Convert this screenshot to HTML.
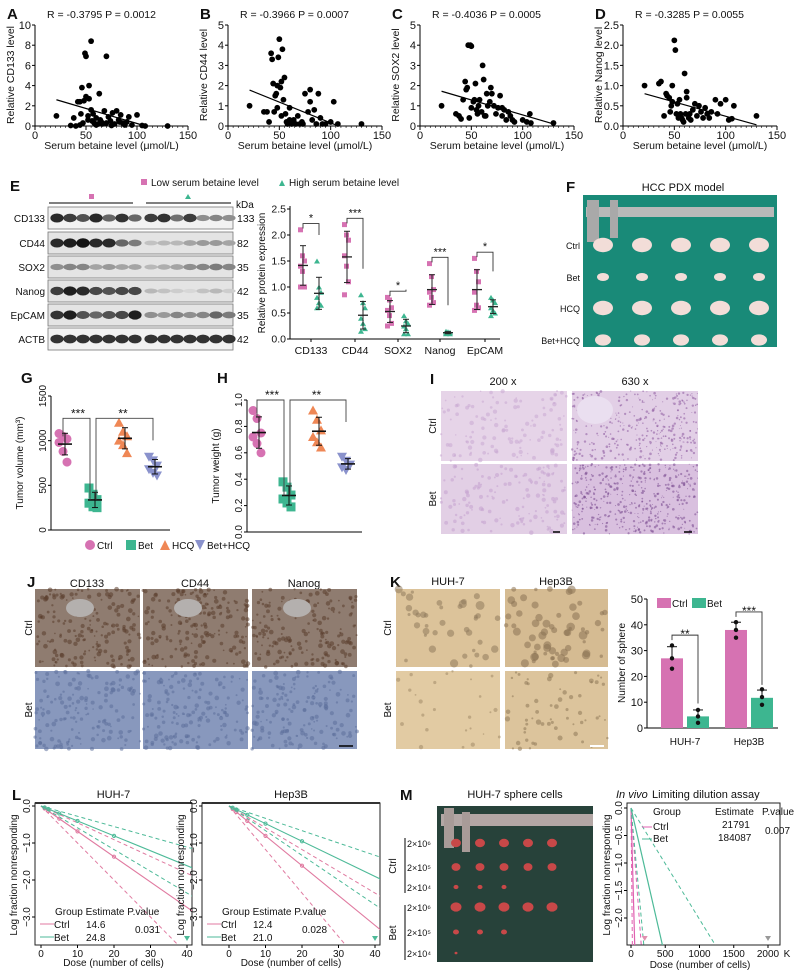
<!DOCTYPE html>
<html><head><meta charset="utf-8">
<style>
html,body{margin:0;padding:0;background:#fff;}
svg{display:block;font-family:"Liberation Sans",Arial,sans-serif;}
</style></head>
<body>
<svg id="fig" width="796" height="979" viewBox="0 0 796 979" xmlns="http://www.w3.org/2000/svg"></svg>
<script>
// ---------- DATA ----------
const aX=[21,35,38,40,42,44,45,46,48,49,50,50,52,53,53,55,55,56,58,60,62,63,64,65,68,70,70,72,74,76,78,80,82,84,86,88,90,92,95,100,105,108,130,60,66,57,47,44,52,75,83];
const aY=[1,0.05,0.8,0,2.4,2.4,1.2,3.8,2.5,7.2,6.9,2.9,1.0,4.0,2.7,8.4,1.6,0.5,0.3,0.8,0.2,3.2,0.6,0.4,1.5,6.9,0.3,0.9,0.5,1.3,0.2,1.5,0.6,1.1,0.3,0.1,0.4,0.9,0.1,1.1,0.05,0,0,0.1,0.2,1.2,0.3,0.1,0.6,0.05,0.4];
const bX=[21,35,38,40,42,43,44,46,47,48,48,49,50,51,52,53,54,55,56,57,58,60,60,62,64,66,68,70,72,75,78,80,80,82,84,86,88,90,95,100,103,107,130,45,52,73,92];
const bY=[1,0.7,0.7,0.2,3.6,3.3,2.1,1.5,1.6,0.9,2.0,3.4,4.3,1.9,2.2,3.8,1.3,2.4,0.6,0.2,0.1,0.9,0.3,0.1,0.3,0.1,0.5,0.1,0.2,1.6,0.7,1.8,1.2,0.3,0.8,0.1,1.6,0.4,0.1,0.2,1.2,0.1,0.1,0.7,0.5,0.1,0.1];
const cX=[21,35,38,40,42,44,45,46,47,48,49,50,50,52,54,55,56,58,60,61,62,63,65,66,68,69,70,72,74,76,78,80,80,82,84,86,88,90,92,100,104,107,108,130,53,57,64];
const cY=[1,0.6,0.5,0.35,1.3,2.2,1.8,1.9,4.0,0.4,4.0,3.95,0.9,1.2,2.1,0.8,0.6,1.3,0.7,3.0,2.3,0.5,1.6,1.0,1.2,1.9,1.6,1.0,0.6,0.9,1.5,0.5,0.9,0.8,0.3,0.7,0.5,0.3,0.2,0.3,0.2,0.6,0.15,0.15,1.3,1.0,0.5];
const dX=[21,35,37,40,42,43,45,46,48,48,50,51,52,53,54,55,56,58,59,60,61,62,62,64,65,66,68,70,72,74,76,78,80,82,84,86,90,92,95,100,103,106,108,130,47,57];
const dY=[1,1.05,1.1,0.25,0.8,0.75,0.7,0.35,1.0,0.6,2.12,1.88,0.3,0.55,0.2,0.65,0.3,0.15,0.1,1.3,0.3,0.85,0.7,0.2,0.3,0.15,0.4,0.55,0.25,0.5,0.35,0.2,0.45,0.3,0.2,0.35,0.65,0.3,0.55,0.65,0.15,0.18,0.5,0.25,0.5,0.2];
const aFit=[[21,2.6],[105,0.1]], bFit=[[21,1.78],[105,0.05]], cFit=[[21,1.72],[130,0.1]], dFit=[[21,0.8],[130,0.03]];

const eCats=["CD133","CD44","SOX2","Nanog","EpCAM"];
const eLow=[[2.1,1.6,1.5,1.4,1.3,1.0,1.0],[2.2,2.0,1.9,1.6,1.4,1.1,0.85],[0.8,0.75,0.6,0.55,0.45,0.3,0.25],[1.45,1.2,0.95,0.9,0.8,0.7,0.65],[1.55,1.3,1.1,0.9,0.65,0.6,0.55]];
const eHigh=[[1.5,1.0,0.9,0.8,0.7,0.65,0.6],[0.85,0.7,0.6,0.4,0.3,0.2,0.15],[0.45,0.35,0.3,0.25,0.2,0.1,0.1],[0.15,0.14,0.13,0.12,0.11,0.1,0.1],[0.8,0.75,0.7,0.6,0.55,0.5,0.45]];
const eSig=["*","***","*","***","*"];
const blotRows=["CD133","CD44","SOX2","Nanog","EpCAM","ACTB"];
const blotKda=["133","82","35","42","35","42"];
const blotInt=[[0.9,0.8,0.7,0.9,0.6,0.85,0.6,0.8,0.85,0.55,0.8,0.4,0.45,0.4],
[0.9,0.95,1,0.9,0.9,0.6,0.5,0.15,0.2,0.2,0.3,0.35,0.35,0.3],
[0.4,0.45,0.45,0.3,0.35,0.3,0.3,0.2,0.25,0.3,0.4,0.45,0.5,0.45],
[0.8,0.95,0.9,0.75,0.7,0.75,0.75,0.2,0.15,0.1,0.05,0.15,0.2,0.1],
[0.85,0.95,0.7,0.6,0.7,0.75,0.95,0.4,0.35,0.45,0.4,0.45,0.6,0.5],
[0.85,0.85,0.85,0.85,0.85,0.85,0.85,0.85,0.85,0.85,0.85,0.85,0.85,0.85]];

const gGroups=["Ctrl","Bet","HCQ","Bet+HCQ"];
const gVol=[[1080,1050,1020,980,880,760],[470,400,340,300,260,250],[1200,1100,1050,1000,950,860],[820,780,720,680,640,610]];
const hWt=[[0.92,0.86,0.75,0.72,0.67,0.6],[0.38,0.34,0.28,0.25,0.22,0.19],[0.92,0.85,0.77,0.72,0.68,0.64],[0.57,0.54,0.51,0.49,0.47]];

const kCells=["HUH-7","Hep3B"];
const kCtrl=[27,38], kBet=[4.5,11.7];
const kCtrlPts=[[32,27,23],[41,38,35]], kBetPts=[[7,4.5,2],[15,12,9]];
const kSig=["**","***"];

const lDoses=[1,2,5,10,20,40];
const lHuhEst=[14.6,24.8], lHepEst=[12.4,21.0];
const lHuhCI=[[10,22],[17,36]], lHepCI=[[8.5,17],[15,30]];
const mEst=[21791,184087];
const mCI=[[8,60],[75,494]];

// ---------- HELPERS ----------
const NS="http://www.w3.org/2000/svg";
const svg=document.getElementById('fig');
function el(tag,attrs,name,parent){
  const e=document.createElementNS(NS,tag);
  for(const k in attrs) e.setAttribute(k,attrs[k]);
  
  
  (parent||svg).appendChild(e);return e;
}
function txt(x,y,s,size,anchor,name,o){
  o=o||{};
  const a={x:x,y:y,'font-size':size,'text-anchor':anchor||'start',fill:o.fill||'#111'};
  if(o.weight)a['font-weight']=o.weight;
  if(o.style)a['font-style']=o.style;
  if(o.rot!==undefined)a.transform='rotate('+o.rot+' '+x+' '+y+')';
  const t=el('text',a,name);t.textContent=s;return t;
}
function line(x1,y1,x2,y2,stroke,w,name,dash){
  const a={x1:x1,y1:y1,x2:x2,y2:y2,stroke:stroke,'stroke-width':w||1};
  if(dash)a['stroke-dasharray']=dash;
  return el('line',a,name);
}
function lin(d0,d1,r0,r1){return v=>r0+(v-d0)/(d1-d0)*(r1-r0);}
function mean(a){return a.reduce((s,v)=>s+v,0)/a.length;}
function sd(a){const m=mean(a);return Math.sqrt(a.reduce((s,v)=>s+(v-m)*(v-m),0)/(a.length-1));}
let seed=7;function rnd(){seed=(seed*16807)%2147483647;return seed/2147483647;}

const PINK="#d672b2",GREEN="#3db690",ORANGE="#ef8755",PURP="#8a92cc";

// ---------- A-D SCATTER ----------
function scatter(letter,x0,x1,ymax,yticks,ylab,stat,xs,ys,fit){
  const sx=lin(0,150,x0,x1), sy=lin(0,ymax,126,25);
  txt(x0-28,19,letter,15,'start','panel-label-'+letter.toLowerCase(),{weight:'bold'});
  txt(x0+12,18,stat,10.5,'start','stat-text-'+letter.toLowerCase());
  line(x0,25,x0,126,'#000',1,'y-axis');
  line(x0,126,x1,126,'#000',1,'x-axis');
  yticks.forEach(v=>{line(x0-3,sy(v),x0,sy(v),'#000',1,'y-tick');
    txt(x0-4,sy(v)+4,v,11,'end','y-tick-label');});
  for(let v=0;v<=150;v+=5){const big=v%50===0;line(sx(v),126,sx(v),126+(big?4:2),'#000',big?1:0.6,'x-tick');}
  [0,50,100,150].forEach(v=>txt(sx(v),139,v,11,'middle','x-tick-label'));
  txt((x0+x1)/2,149,'Serum betaine level (μmol/L)',10.5,'middle','x-axis-title');
  txt(x0-21,75,ylab,10.5,'middle','y-axis-title',{rot:-90});
  xs.forEach((v,i)=>{
    el('circle',{cx:sx(v),cy:sy(ys[i]),r:2.9,fill:'#000'},'data-point');
  });
  line(sx(fit[0][0]),sy(fit[0][1]),sx(fit[1][0]),sy(fit[1][1]),'#000',1.2,'regression-line');
}
scatter('A',35,188,10,[0,2,4,6,8,10],'Relative CD133 level','R = -0.3795 P = 0.0012',aX,aY,aFit);
scatter('B',228,382,5,[0,1,2,3,4,5],'Relative CD44 level','R = -0.3966 P = 0.0007',bX,bY,bFit);
scatter('C',420,574,5,[0,1,2,3,4,5],'Relative SOX2 level','R = -0.4036 P = 0.0005',cX,cY,cFit);
scatter('D',623,777,2.5,[0,0.5,1,1.5,2,2.5].map(v=>v.toFixed(1)),'Relative Nanog level','R = -0.3285 P = 0.0055',dX,dY,dFit);

// ---------- E ----------
txt(10,191,'E',15,'start','panel-label-e',{weight:'bold'});
el('rect',{x:141,y:179,width:6,height:6,fill:PINK},'legend-low-marker');
txt(151,186,'Low serum betaine level',10,'start','legend-low-text');
el('polygon',{points:'279,186 282,180 285,186',fill:GREEN},'legend-high-marker');
txt(289,186,'High serum betaine level',10,'start','legend-high-text');
line(49,203,133,203,'#000',1,'low-group-bar');line(146,203,231,203,'#000',1,'high-group-bar');
el('rect',{x:89,y:194,width:5,height:5,fill:PINK},'low-group-marker');
el('polygon',{points:'185,199 188,194 191,199',fill:GREEN},'high-group-marker');
txt(236,208,'kDa',10,'start','kda-label');
const rowY=[218,243,267,291,315,339];
blotRows.forEach((r,ri)=>{
  const y=rowY[ri];
  el('rect',{x:48,y:y-11,width:185,height:22,fill:ri===0||ri===5?'#f2f2f2':'#e4e4e4',stroke:'#777','stroke-width':0.8},'blot-strip-'+r.toLowerCase());
  blotInt[ri].forEach((v,li)=>{
    const cx=57+li*13 + (li>=7?3:0);
    const g=Math.round(225-205*v);
    el('ellipse',{cx:cx,cy:y,rx:6.6,ry:2+2.8*v,fill:'rgb('+g+','+g+','+g+')'},'blot-band');
  });
  txt(45,y+4,r,10,'end','blot-row-label');
  txt(237,y+4,blotKda[ri],10.5,'start','blot-kda-value');
});
// E dot chart
{
  const x0=290,sy=lin(0,2.5,339,209),cx=[311,355,398,440,485];
  line(x0,206,x0,339,'#000',1,'y-axis');line(x0,339,500,339,'#000',1,'x-axis');
  [0,0.5,1,1.5,2,2.5].forEach(v=>{line(x0-3,sy(v),x0,sy(v),'#000',1,'y-tick');txt(x0-4,sy(v)+3.5,v.toFixed(1),10.5,'end','y-tick-label');});
  txt(265,273,'Relative protein expression',10,'middle','y-axis-title',{rot:-90});
  eCats.forEach((c,i)=>{
    txt(cx[i],354,c,10.5,'middle','x-tick-label');
    line(cx[i],339,cx[i],342,'#000',1,'x-tick');
    const xl=cx[i]-8,xh=cx[i]+8;
    eLow[i].forEach((v,j)=>el('rect',{x:xl-3+(j%3-1)*2,y:sy(v)-2.5,width:5,height:5,fill:PINK},'low-point'));
    eHigh[i].forEach((v,j)=>el('polygon',{points:[xh-3+(j%3-1)*2,sy(v)+2.5,xh+(j%3-1)*2,sy(v)-2.5,xh+3+(j%3-1)*2,sy(v)+2.5].join(','),fill:GREEN},'high-point'));
    [[xl,eLow[i]],[xh,eHigh[i]]].forEach(([x,a])=>{
      const m=mean(a),s=sd(a);
      line(x,sy(m-s),x,sy(m+s),'#222',1,'error-bar');
      line(x-3,sy(m+s),x+3,sy(m+s),'#222',1,'error-cap');line(x-3,sy(m-s),x+3,sy(m-s),'#222',1,'error-cap');
      line(x-5,sy(m),x+5,sy(m),'#222',1.3,'mean-line');
    });
    const top=Math.max(...eLow[i])+0.12;
    el('polyline',{points:[xl,sy(top)+5,xl,sy(top),xh,sy(top),xh,sy(Math.max(...eHigh[i])+0.5)].join(','),fill:'none',stroke:'#333','stroke-width':0.9},'significance-bracket');
    txt((xl+xh)/2,sy(top)-2,eSig[i],11,'middle','significance-stars');
  });
}

// ---------- F ----------
txt(566,192,'F',15,'start','panel-label-f',{weight:'bold'});
txt(683,191,'HCC PDX model',11,'middle','f-title');
el('rect',{x:583,y:195,width:194,height:152,fill:'#198a78'},'pdx-photo');
el('rect',{x:586,y:207,width:188,height:10,fill:'#b9b9b9'},'caliper');
el('rect',{x:587,y:200,width:12,height:42,fill:'#a9a9a9'},'caliper-jaw');
el('rect',{x:610,y:200,width:8,height:38,fill:'#a9a9a9'},'caliper-jaw');
['Ctrl','Bet','HCQ','Bet+HCQ'].forEach((r,ri)=>{
  const y=[245,277,308,340][ri];
  txt(580,y+4,r,9,'end','f-row-label');
  for(let k=0;k<5;k++){
    const s=[9,5,9,7][ri];
    el('ellipse',{cx:603+k*39,cy:y,rx:s+1,ry:s*0.8,fill:'#f2ddd8'},'tumor');
  }
});

// ---------- G & H ----------
function dotplot(letter,x0,xs,sy,ticks,fmt,ylab,data,brY,sigs,xend){
  txt(x0-30,383,letter,15,'start','panel-label-'+letter.toLowerCase(),{weight:'bold'});
  line(x0,sy(ticks[ticks.length-1]),x0,sy(ticks[0]),'#000',1,'y-axis');
  line(x0,sy(ticks[0]),xend,sy(ticks[0]),'#000',1,'x-axis');
  ticks.forEach(v=>{line(x0-3,sy(v),x0,sy(v),'#000',1,'y-tick');txt(x0-5,sy(v),fmt(v),10,'middle','y-tick-label',{rot:-90});});
  txt(x0-28,(sy(ticks[0])+sy(ticks[ticks.length-1]))/2,ylab,10,'middle','y-axis-title',{rot:-90});
  const cols=[PINK,GREEN,ORANGE,PURP];
  data.forEach((a,gi)=>{
    const x=xs[gi];
    a.forEach((v,j)=>{
      const dx=(j%3-1)*4,y=sy(v),c=cols[gi];
      if(gi===0)el('circle',{cx:x+dx,cy:y,r:4.5,fill:c},'ctrl-point');
      else if(gi===1)el('rect',{x:x+dx-4.5,y:y-4.5,width:9,height:9,fill:c},'bet-point');
      else if(gi===2)el('polygon',{points:[x+dx-5,y+4,x+dx,y-5,x+dx+5,y+4].join(','),fill:c},'hcq-point');
      else el('polygon',{points:[x+dx-5,y-4,x+dx,y+5,x+dx+5,y-4].join(','),fill:c},'bet-hcq-point');
    });
    const m=mean(a),s=sd(a);
    line(x+2,sy(m-s),x+2,sy(m+s),'#111',1,'error-bar');
    line(x-1,sy(m+s),x+5,sy(m+s),'#111',1,'error-cap');line(x-1,sy(m-s),x+5,sy(m-s),'#111',1,'error-cap');
    line(x-5,sy(m),x+9,sy(m),'#111',1.6,'mean-line');
  });
  el('polyline',{points:[xs[0],sy(brY)+18,xs[0],sy(brY),xs[1]-3,sy(brY),xs[1]-3,sy(mean(data[1]))].join(','),fill:'none',stroke:'#444','stroke-width':0.9},'significance-bracket');
  el('polyline',{points:[xs[1]+3,sy(mean(data[1])),xs[1]+3,sy(brY),xs[3],sy(brY),xs[3],sy(brY)+22].join(','),fill:'none',stroke:'#444','stroke-width':0.9},'significance-bracket');
  txt((xs[0]+xs[1])/2,sy(brY)-1,sigs[0],12,'middle','significance-stars');
  txt((xs[1]+xs[3])/2,sy(brY)-1,sigs[1],12,'middle','significance-stars');
}
dotplot('G',51,[63,93,123,153],lin(0,1500,530,396),[0,500,1000,1500],v=>v,'Tumor volume (mm³)',gVol,1250,['***','**'],170);
dotplot('H',247,[257,287,317,346],lin(0,1,532,400),[0,0.2,0.4,0.6,0.8,1.0],v=>v.toFixed(1),'Tumor weight (g)',hWt,1.0,['***','**'],362);
el('circle',{cx:90,cy:545,r:5,fill:PINK},'legend-ctrl-marker');txt(97,549,'Ctrl',10,'start','legend-ctrl-text');
el('rect',{x:126,y:540,width:10,height:10,fill:GREEN},'legend-bet-marker');txt(138,549,'Bet',10,'start','legend-bet-text');
el('polygon',{points:'160,550 165,540 170,550',fill:ORANGE},'legend-hcq-marker');txt(172,549,'HCQ',10,'start','legend-hcq-text');
el('polygon',{points:'195,540 200,550 205,540',fill:PURP},'legend-bethcq-marker');txt(207,549,'Bet+HCQ',10,'start','legend-bethcq-text');

// ---------- textured photo helper ----------
function photo(x,y,w,h,bg,dot,n,r,name){
  const g=el('g',{},name);
  el('rect',{x:x,y:y,width:w,height:h,fill:bg},name+'-bg',g);
  for(let i=0;i<n;i++){
    el('circle',{cx:x+rnd()*w,cy:y+rnd()*h,r:r*(0.5+rnd()),fill:dot,opacity:0.55},'texture',g);
  }
  return g;
}
// ---------- I ----------
txt(430,384,'I',15,'start','panel-label-i',{weight:'bold'});
txt(503,385,'200 x',11,'middle','i-col-label');txt(635,385,'630 x',11,'middle','i-col-label');
txt(436,426,'Ctrl',10,'middle','i-row-label',{rot:-90});txt(436,499,'Bet',10,'middle','i-row-label',{rot:-90});
photo(441,391,126,70,'#e6d4e8','#c8a8d2',120,1.5,'he-ctrl-200');
photo(572,391,126,70,'#e2cfe6','#8c5a9e',350,0.9,'he-ctrl-630');
photo(441,464,126,70,'#e2cfe5','#c4a2cf',140,1.5,'he-bet-200');
photo(572,464,126,70,'#d9c0df','#7a4a90',450,0.9,'he-bet-630');
el('ellipse',{cx:595,cy:410,rx:18,ry:14,fill:'#eadff0'},'vessel');
line(553,532,560,532,'#000',1.5,'scale-bar');line(684,532,692,532,'#000',1.5,'scale-bar');

// ---------- J ----------
txt(27,587,'J',15,'start','panel-label-j',{weight:'bold'});
['CD133','CD44','Nanog'].forEach((t,i)=>{
  const x=[35,143,252][i];
  txt(x+52,587,t,11,'middle','j-col-label');
  photo(x,589,105,78,'#8f7c70','#5a3d2c',180,1.6,'ihc-ctrl-'+t.toLowerCase());
  el('ellipse',{cx:x+45,cy:608,rx:14,ry:9,fill:'#b4b0ae'},'vessel');
  photo(x,671,105,78,'#8898bd','#5d6f9a',160,1.6,'ihc-bet-'+t.toLowerCase());
});
txt(32,628,'Ctrl',10,'middle','j-row-label',{rot:-90});txt(32,710,'Bet',10,'middle','j-row-label',{rot:-90});
line(339,746,353,746,'#000',1.5,'scale-bar');

// ---------- K ----------
txt(390,587,'K',15,'start','panel-label-k',{weight:'bold'});
txt(448,585,'HUH-7',11,'middle','k-col-label');txt(556,585,'Hep3B',11,'middle','k-col-label');
txt(391,628,'Ctrl',10,'middle','k-row-label',{rot:-90});txt(391,710,'Bet',10,'middle','k-row-label',{rot:-90});
photo(396,589,104,78,'#dcc39a','#8f7a5c',40,3,'sphere-huh-ctrl');
photo(505,589,103,78,'#d5bb92','#8a7354',60,3,'sphere-hep-ctrl');
photo(396,671,104,78,'#e2cba3','#a08a68',25,1.5,'sphere-huh-bet');
photo(505,671,103,78,'#dcc49c','#8e7858',60,1.8,'sphere-hep-bet');
line(590,746,604,746,'#fff',2,'scale-bar');
{
  const x0=647,sy=lin(0,50,728,599),bx=[[672,698],[736,762]];
  line(x0,599,x0,728,'#000',1,'y-axis');line(x0,728,778,728,'#000',1,'x-axis');
  [0,10,20,30,40,50].forEach(v=>{line(x0-3,sy(v),x0,sy(v),'#000',1,'y-tick');txt(x0-4,sy(v)+4,v,11,'end','y-tick-label');});
  txt(625,663,'Number of sphere',10,'middle','y-axis-title',{rot:-90});
  kCells.forEach((c,i)=>{
    txt((bx[i][0]+bx[i][1])/2,745,c,10,'middle','x-tick-label');
    [[kCtrl[i],kCtrlPts[i],PINK,bx[i][0]],[kBet[i],kBetPts[i],GREEN,bx[i][1]]].forEach(([v,pts,col,x])=>{
      el('rect',{x:x-11,y:sy(v),width:22,height:sy(0)-sy(v),fill:col},'bar-'+c.toLowerCase());
      const s=sd(pts);
      line(x,sy(v),x,sy(v+s),'#111',1,'error-bar');line(x-5,sy(v+s),x+5,sy(v+s),'#111',1,'error-cap');
      pts.forEach(p=>el('circle',{cx:x,cy:sy(p),r:2.2,fill:'#111'},'replicate-point'));
    });
    const top=Math.max(...kCtrlPts[i])+4;
    el('polyline',{points:[bx[i][0],sy(top)+5,bx[i][0],sy(top),bx[i][1],sy(top),bx[i][1],sy(kBet[i]+5)].join(','),fill:'none',stroke:'#333','stroke-width':0.9},'significance-bracket');
    txt((bx[i][0]+bx[i][1])/2,sy(top)+3,kSig[i],12,'middle','significance-stars');
  });
  el('rect',{x:657,y:598,width:14,height:10,fill:PINK},'legend-ctrl-marker');txt(672,607,'Ctrl',10,'start','legend-ctrl-text');
  el('rect',{x:692,y:598,width:14,height:10,fill:GREEN},'legend-bet-marker');txt(707,607,'Bet',10,'start','legend-bet-text');
}

// ---------- L ----------
txt(12,800,'L',15,'start','panel-label-l',{weight:'bold'});
function ldaPlot(title,bx0,bx1,x0,x1,est,ci,pv,name){
  const sx=lin(0,40,x0,x1),sy=lin(0,-1,806,843),yb=945,yt=803;
  txt((bx0+bx1)/2,798,title,11,'middle',name+'-title');
  el('rect',{x:bx0,y:yt,width:bx1-bx0,height:yb-yt,fill:'none',stroke:'#222','stroke-width':1},name+'-frame');
  line(bx0,yt,bx1,yt,'#333',2,'frame-top');
  [0,-1,-2,-3].forEach(v=>{line(bx0-3,sy(v),bx0,sy(v),'#000',1,'y-tick');txt(bx0-5,sy(v),v===0?'0.0':'−'+(-v)+'.0',10,'middle','y-tick-label',{rot:-90});});
  [0,10,20,30,40].forEach(v=>{line(sx(v),yb,sx(v),yb+3,'#000',1,'x-tick');txt(sx(v),yb+12,v,10,'middle','x-tick-label');});
  txt((bx0+bx1)/2,966,'Dose (number of cells)',10,'middle','x-axis-title');
  txt(bx0-18,875,'Log fraction nonresponding',10,'middle','y-axis-title',{rot:-90});
  const clipId='clip'+name;
  const cp=el('clipPath',{id:clipId},'clip');el('rect',{x:bx0,y:yt,width:bx1-bx0,height:yb-yt},'clip-rect',cp);
  const g=el('g',{'clip-path':'url(#'+clipId+')'},name+'-lines');
  [[est[0],ci[0],'#e07aa0'],[est[1],ci[1],'#4dba98']].forEach(([e,c,col])=>{
    el('line',{x1:sx(0),y1:sy(0),x2:sx(45),y2:sy(-45/e),stroke:col,'stroke-width':1.1},'fit-line',g);
    c.forEach(cc=>el('line',{x1:sx(0),y1:sy(0),x2:sx(45),y2:sy(-45/cc),stroke:col,'stroke-width':1,'stroke-dasharray':'4,3'},'ci-line',g));
    lDoses.slice(0,5).forEach(d=>el('circle',{cx:sx(d),cy:sy(-d/e),r:1.6,fill:'none',stroke:col},'observed-point',g));
  });
  el('polygon',{points:[sx(40)-3,yb-9,sx(40)+3,yb-9,sx(40),yb-4].join(','),fill:'#4dba98'},'inf-point');
  const lx=bx0+5;
  txt(lx+15,915,'Group Estimate P.value',10,'start','lda-legend-header');
  line(lx,924,lx+14,924,'#e07aa0',1,'legend-ctrl-line');txt(lx+14,928,'Ctrl',10,'start','legend-ctrl');
  txt(lx+46,928,est[0].toFixed(1),10,'start','ctrl-estimate');txt(lx+95,933,pv,10,'start','p-value');
  line(lx,937,lx+14,937,'#4dba98',1,'legend-bet-line');txt(lx+14,941,'Bet',10,'start','legend-bet');
  txt(lx+46,941,est[1].toFixed(1),10,'start','bet-estimate');
}
ldaPlot('HUH-7',35,192,41,187,lHuhEst,lHuhCI,'0.031','lda-huh7');
ldaPlot('Hep3B',202,380,229,375,lHepEst,lHepCI,'0.028','lda-hep3b');

// ---------- M ----------
txt(400,800,'M',15,'start','panel-label-m',{weight:'bold'});
txt(515,798,'HUH-7 sphere cells',11,'middle','m-title');
el('rect',{x:437,y:806,width:156,height:156,fill:'#27423a'},'sphere-tumor-photo');
el('rect',{x:441,y:814,width:152,height:12,fill:'#b3a7a5'},'caliper');
el('rect',{x:444,y:808,width:10,height:40,fill:'#a89b98'},'caliper-jaw');
el('rect',{x:462,y:812,width:8,height:40,fill:'#a89b98'},'caliper-jaw');
const mRowsY=[843,867,887,907,932,953], mCounts=[5,5,3,5,3,1], mSize=[5,4.5,2.5,5.5,3,1.5];
mRowsY.forEach((y,ri)=>{
  txt(407,y+4,'2×10'+['⁶','⁵','⁴','⁶','⁵','⁴'][ri],9,'start','dose-label');
  for(let k=0;k<mCounts[ri];k++)el('ellipse',{cx:456+k*24,cy:y,rx:mSize[ri],ry:mSize[ri]*0.85,fill:'#c84848'},'tumor');
});
line(405,838,405,893,'#000',1,'ctrl-group-bar');line(405,905,405,960,'#000',1,'bet-group-bar');
txt(396,866,'Ctrl',10,'middle','m-row-label',{rot:-90});txt(396,933,'Bet',10,'middle','m-row-label',{rot:-90});
{
  const bx0=627,bx1=780,yt=803,yb=945,sx=lin(0,2000,631,768),sy=lin(0,-0.5,808,835.5);
  txt(616,798,'In vivo',11,'start','m-title-italic',{style:'italic'});
  txt(652,798,'Limiting dilution assay',11,'start','m-title-rest');
  el('rect',{x:bx0,y:yt,width:bx1-bx0,height:yb-yt,fill:'none',stroke:'#222','stroke-width':1},'m-frame');
  [0,-0.5,-1,-1.5,-2].forEach(v=>{line(bx0-3,sy(v),bx0,sy(v),'#000',1,'y-tick');txt(bx0-5,sy(v),v===0?'0.0':'−'+(-v).toFixed(1),10,'middle','y-tick-label',{rot:-90});});
  [0,500,1000,1500,2000].forEach(v=>{line(sx(v),yb,sx(v),yb+3,'#000',1,'x-tick');txt(sx(v),yb+12,v,10,'middle','x-tick-label');});
  txt(787,957,'K',10,'middle','x-unit-label');
  txt(700,968,'Dose (number of cells)',10,'middle','x-axis-title');
  txt(610,875,'Log fraction nonresponding',10,'middle','y-axis-title',{rot:-90});
  const cp=el('clipPath',{id:'clipM'},'clip');el('rect',{x:bx0,y:yt,width:bx1-bx0,height:yb-yt},'clip-rect',cp);
  const g=el('g',{'clip-path':'url(#clipM)'},'m-lines');
  const k=[mEst[0]/1000,mEst[1]/1000];
  [[k[0],mCI[0],'#e060b0'],[k[1],mCI[1],'#4dba98']].forEach(([e,c,col])=>{
    el('line',{x1:sx(0),y1:sy(0),x2:sx(3*e),y2:sy(-3),stroke:col,'stroke-width':1.2},'fit-line',g);
    c.forEach(cc=>el('line',{x1:sx(0),y1:sy(0),x2:sx(3*cc),y2:sy(-3),stroke:col,'stroke-width':1,'stroke-dasharray':'4,3'},'ci-line',g));
  });
  el('polygon',{points:[sx(2000)-3,yb-9,sx(2000)+3,yb-9,sx(2000),yb-4].join(','),fill:'#999'},'inf-point');
  el('polygon',{points:[sx(200)-3,yb-9,sx(200)+3,yb-9,sx(200),yb-4].join(','),fill:'#e090b0'},'inf-point');
  txt(653,815,'Group',10,'start','m-legend-header');txt(715,815,'Estimate',10,'start','m-legend-header');txt(762,815,'P.value',10,'start','m-legend-header');
  line(642,827,652,827,'#e060b0',1,'legend-ctrl-line');txt(653,830,'Ctrl',10,'start','legend-ctrl');txt(722,828,mEst[0],10,'start','ctrl-estimate');
  line(642,839,652,839,'#4dba98',1,'legend-bet-line');txt(653,842,'Bet',10,'start','legend-bet');txt(718,841,mEst[1],10,'start','bet-estimate');
  txt(765,834,'0.007',10,'start','p-value');
}
</script>
</body></html>
